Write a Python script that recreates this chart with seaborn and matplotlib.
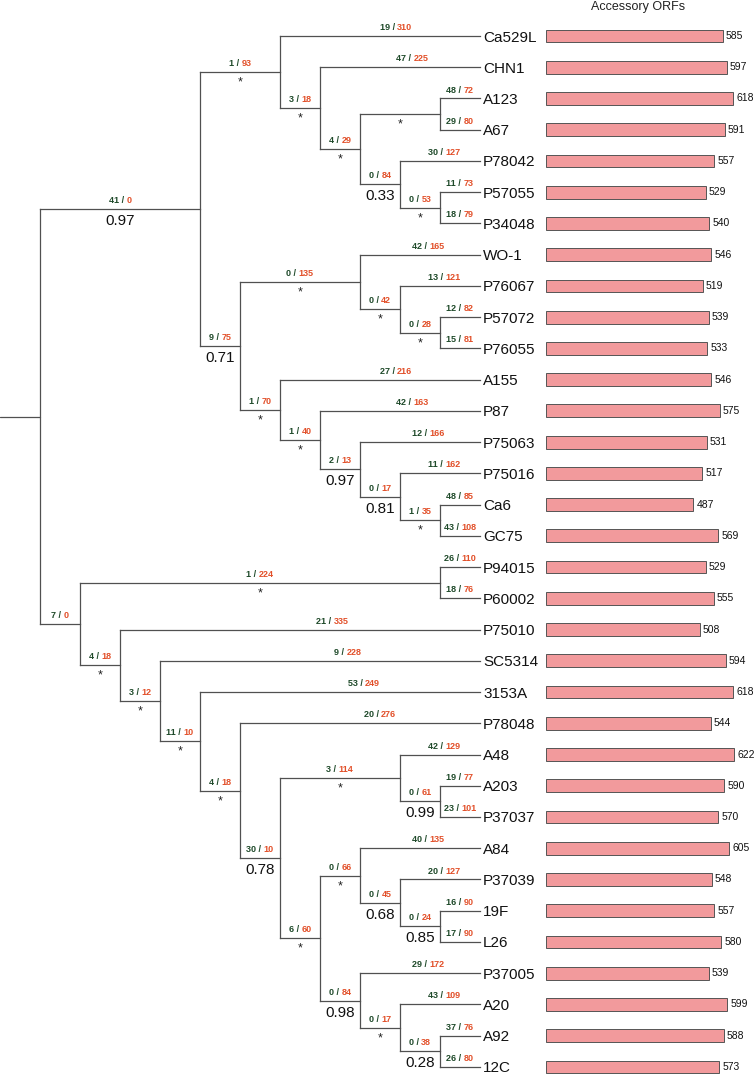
import matplotlib
matplotlib.use("Agg")
import matplotlib.pyplot as plt
import seaborn as sns
import pandas as pd

# Leaf order (top to bottom) and accessory ORF counts
leaves = ["Ca529L", "CHN1", "A123", "A67", "P78042", "P57055", "P34048",
          "WO-1", "P76067", "P57072", "P76055", "A155", "P87", "P75063",
          "P75016", "Ca6", "GC75", "P94015", "P60002", "P75010", "SC5314",
          "3153A", "P78048", "A48", "A203", "P37037", "A84", "P37039", "19F",
          "L26", "P37005", "A20", "A92", "12C"]
orfs = [585, 597, 618, 591, 557, 529, 540, 546, 519, 539, 533, 546, 575, 531,
        517, 487, 569, 529, 555, 508, 594, 618, 544, 622, 590, 570, 605, 548,
        557, 580, 539, 599, 588, 573]

# (node, parent, gained, lost, support)
branches = [
    ("A", "root", 41, 0, "0.97"),
    ("B", "root", 7, 0, None),
    ("A1", "A", 1, 93, "*"),
    ("A2", "A", 9, 75, "0.71"),
    ("Ca529L", "A1", 19, 310, None),
    ("A1b", "A1", 3, 18, "*"),
    ("CHN1", "A1b", 47, 225, None),
    ("A1c", "A1b", 4, 29, "*"),
    ("A1d", "A1c", None, None, "*"),
    ("A123", "A1d", 48, 72, None),
    ("A67", "A1d", 29, 80, None),
    ("A1e", "A1c", 0, 84, "0.33"),
    ("P78042", "A1e", 30, 127, None),
    ("A1f", "A1e", 0, 53, "*"),
    ("P57055", "A1f", 11, 73, None),
    ("P34048", "A1f", 18, 79, None),
    ("A2a", "A2", 0, 135, "*"),
    ("WO-1", "A2a", 42, 165, None),
    ("A2a1", "A2a", 0, 42, "*"),
    ("P76067", "A2a1", 13, 121, None),
    ("A2a2", "A2a1", 0, 28, "*"),
    ("P57072", "A2a2", 12, 82, None),
    ("P76055", "A2a2", 15, 81, None),
    ("A2b", "A2", 1, 70, "*"),
    ("A155", "A2b", 27, 216, None),
    ("A2b1", "A2b", 1, 40, "*"),
    ("P87", "A2b1", 42, 163, None),
    ("A2b2", "A2b1", 2, 13, "0.97"),
    ("P75063", "A2b2", 12, 166, None),
    ("A2b3", "A2b2", 0, 17, "0.81"),
    ("P75016", "A2b3", 11, 162, None),
    ("A2b4", "A2b3", 1, 35, "*"),
    ("Ca6", "A2b4", 48, 85, None),
    ("GC75", "A2b4", 43, 108, None),
    ("B1", "B", 1, 224, "*"),
    ("P94015", "B1", 26, 110, None),
    ("P60002", "B1", 18, 76, None),
    ("B2", "B", 4, 18, "*"),
    ("P75010", "B2", 21, 335, None),
    ("B3", "B2", 3, 12, "*"),
    ("SC5314", "B3", 9, 228, None),
    ("B4", "B3", 11, 10, "*"),
    ("3153A", "B4", 53, 249, None),
    ("B5", "B4", 4, 18, "*"),
    ("P78048", "B5", 20, 276, None),
    ("B6", "B5", 30, 10, "0.78"),
    ("B7", "B6", 3, 114, "*"),
    ("A48", "B7", 42, 129, None),
    ("B7a", "B7", 0, 61, "0.99"),
    ("A203", "B7a", 19, 77, None),
    ("P37037", "B7a", 23, 101, None),
    ("B8", "B6", 6, 60, "*"),
    ("B9", "B8", 0, 66, "*"),
    ("A84", "B9", 40, 135, None),
    ("B9a", "B9", 0, 45, "0.68"),
    ("P37039", "B9a", 20, 127, None),
    ("B9b", "B9a", 0, 24, "0.85"),
    ("19F", "B9b", 16, 90, None),
    ("L26", "B9b", 17, 90, None),
    ("B10", "B8", 0, 84, "0.98"),
    ("P37005", "B10", 29, 172, None),
    ("B10a", "B10", 0, 17, "*"),
    ("A20", "B10a", 43, 109, None),
    ("B10b", "B10a", 0, 38, "0.28"),
    ("A92", "B10b", 37, 76, None),
    ("12C", "B10b", 26, 80, None),
]

GREEN = "#1f4a2a"
RED = "#e2502a"
LINE = "#505050"
BAR = "#f29a9c"

sns.set_theme(style="white")
plt.rcParams["font.family"] = ["Liberation Sans", "DejaVu Sans"]

W, H, DPI = 755, 1074, 100
fig = plt.figure(figsize=(W / DPI, H / DPI), dpi=DPI)

# tree axes: x in "levels" (40 px each), y in leaf rows (31.24 px each)
ROW, Y0 = 31.24, 36
ylim = ((H - Y0) / ROW, -Y0 / ROW)
ax = fig.add_axes([0, 0, 1, 1])
ax.set_xlim(0, W / 40)
ax.set_ylim(*ylim)
ax.axis("off")

# build the tree
children = {}
parent = {}
info = {}
for node, par, g, r, s in branches:
    children.setdefault(par, []).append(node)
    parent[node] = par
    info[node] = (g, r, s)

height, ypos = {}, {}
def layout(n):
    if n not in children:
        height[n] = 0
        ypos[n] = leaves.index(n)
    else:
        for c in children[n]:
            layout(c)
        height[n] = 1 + max(height[c] for c in children[n])
        ys = [ypos[c] for c in children[n]]
        ypos[n] = (min(ys) + max(ys)) / 2
layout("root")
LEAF_X = 12
xpos = {n: LEAF_X - h for n, h in height.items()}

lw = 0.9
# root stem
ax.plot([0, xpos["root"]], [ypos["root"]] * 2, color=LINE, lw=lw)
for n, kids in children.items():
    ys = [ypos[c] for c in kids]
    ax.plot([xpos[n]] * 2, [min(ys), max(ys)], color=LINE, lw=lw,
            solid_capstyle="projecting")
    for c in kids:
        ax.plot([xpos[n], xpos[c]], [ypos[c]] * 2, color=LINE, lw=lw,
                solid_capstyle="projecting")

fig.canvas.draw()
renderer = fig.canvas.get_renderer()

def two_tone(x, y, g, r):
    full = f"{g} / {r}"
    t = ax.text(0, 0, full, fontsize=6.5, fontweight="bold")
    w = t.get_window_extent(renderer).width * 72 / DPI
    t.remove()
    kw = dict(textcoords="offset points", va="baseline", fontsize=6.5,
              fontweight="bold")
    ax.annotate(f"{g} /", (x, y), xytext=(-w / 2, 4.3), ha="left",
                color=GREEN, **kw)
    ax.annotate(f"{r}", (x, y), xytext=(w / 2, 4.3), ha="right",
                color=RED, **kw)

for n, (g, r, s) in info.items():
    px, x, y = xpos[parent[n]], xpos[n], ypos[n]
    xc = (px + x) / 2
    if n not in children:
        xc += 0.1 * (x - px - 1)
    if g is not None:
        two_tone(xc, y, g, r)
    if s == "*":
        ax.annotate("*", ((px + x) / 2, y), xytext=(0, -3.2),
                    textcoords="offset points", ha="center", va="top",
                    fontsize=9, color="#222222")
    elif s is not None:
        ax.annotate(s, ((px + x) / 2, y), xytext=(0, -3.6),
                    textcoords="offset points", ha="center", va="top",
                    fontsize=11, color="#111111")

for i, name in enumerate(leaves):
    ax.text(LEAF_X + 3 / 40, i, name, ha="left", va="center_baseline",
            fontsize=11, color="#111111")

# bar panel
BAR_LEFT = 545.7
SCALE = 0.303  # px per ORF
axb = fig.add_axes([BAR_LEFT / W, 0, 1 - BAR_LEFT / W, 1])
df = pd.DataFrame({"strain": leaves, "orfs": orfs})
sns.barplot(data=df, x="orfs", y="strain", orient="h", color=BAR,
            saturation=1, edgecolor="#555555", linewidth=0.7, width=0.41,
            ax=axb)
axb.set_ylim(*ylim)
axb.set_xlim(0, (W - BAR_LEFT) / SCALE)
axb.axis("off")
axb.bar_label(axb.containers[0], padding=2.2, fontsize=7.5, color="#111111")

fig.text(638 / W, 1 - 10 / H, "Accessory ORFs", ha="center", va="baseline",
         fontsize=9, color="#222222")

fig.savefig("out.png", dpi=DPI)
